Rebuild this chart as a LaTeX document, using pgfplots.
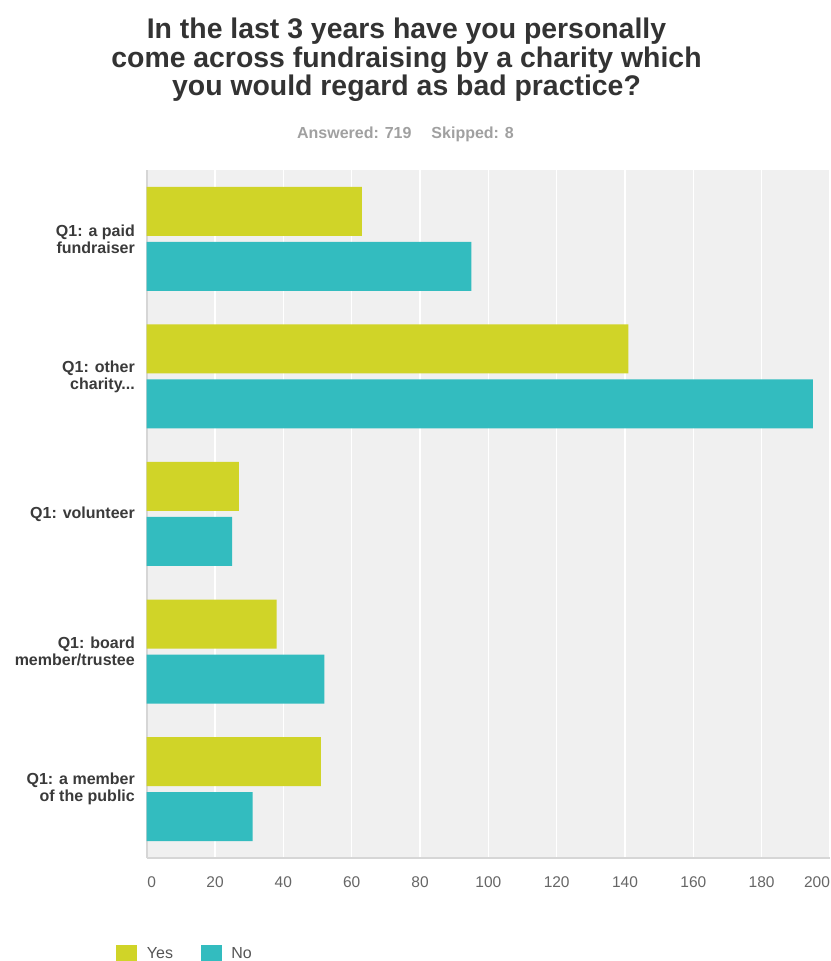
\documentclass[border=0pt]{standalone}
\usepackage{fontspec}
\setmainfont{Liberation Sans}
\usepackage{pgfplots}
\pgfplotsset{compat=1.18}
\definecolor{yescol}{HTML}{D0D428}
\definecolor{nocol}{HTML}{33BCBF}
\definecolor{bgcol}{HTML}{F0F0F0}
\definecolor{titlecol}{HTML}{333333}
\definecolor{ylabcol}{HTML}{3A3A3A}
\definecolor{xlabcol}{HTML}{666666}
\definecolor{subcol}{HTML}{A0A0A0}
\definecolor{linecol}{HTML}{D6D6D6}
\definecolor{legcol}{HTML}{555555}
\begin{document}
\begin{tikzpicture}[x=1pt,y=1pt]
\useasboundingbox (0,0) rectangle (830,961);
\node[anchor=north, align=center, inner sep=0pt, text=titlecol,
  font=\fontsize{28.4}{28.3}\selectfont\bfseries] at (406.5,943)
  {In the last 3 years have you personally\\come across fundraising by a charity which\\you would regard as bad practice?};
\node[anchor=base, inner sep=0pt, text=subcol,
  font=\fontsize{16}{18}\selectfont\bfseries] at (405.5,822.7)
  {Answered: 719\hspace{20pt}Skipped: 8};
\begin{axis}[
  at={(146.7pt,103pt)}, anchor=south west,
  scale only axis, width=683.3pt, height=688pt,
  xbar, xmin=0, xmax=200, ymin=-0.5, ymax=4.5,
  axis background/.style={fill=bgcol},
  axis x line*=bottom, axis y line*=left,
  axis line style={draw=linecol, line width=2pt, -},
  xmajorgrids, major grid style={white, line width=1.2pt},
  major tick length=0pt,
  xtick={0,20,...,200},
  xticklabels={\kern10pt 0,20,40,60,80,100,120,140,160,180,200\kern26pt},
  xticklabel style={font=\fontsize{15.5}{16}\selectfont, text=xlabcol, inner sep=0pt, anchor=north, yshift=-18.7pt},
  ytick={0,1,2,3,4},
  yticklabels={{Q1: a member\\of the public},{Q1: board\\member/trustee},{Q1: volunteer},{Q1: other\\charity{.}{.}{.}},{Q1: a paid\\fundraiser}},
  yticklabel style={font=\fontsize{16}{17}\selectfont\bfseries, text=ylabcol, align=right, inner sep=0pt, anchor=east, xshift=-11.7pt},
  legend style={draw=none, fill=none, at={(axis description cs:-0.0493,-0.1226)}, anchor=north west,
    legend columns=2, font=\fontsize{16}{17}\selectfont, text=legcol, nodes={inner sep=0pt},
    /tikz/every odd column/.append style={column sep=9.7pt},
    /tikz/every even column/.append style={column sep=27.7pt}},
  legend cell align=left,
  legend image code/.code={\fill[#1,draw=none] (0pt,-11.7pt) rectangle (21pt,9.3pt);},
]
\addplot[fill=yescol, draw=none, bar width=49pt, bar shift=27.5pt] coordinates {(51,0) (38,1) (27,2) (141,3) (63,4)};
\addplot[fill=nocol, draw=none, bar width=49pt, bar shift=-27.5pt] coordinates {(31,0) (52,1) (25,2) (195,3) (95,4)};
\legend{Yes,No}
\end{axis}
\end{tikzpicture}
\end{document}
